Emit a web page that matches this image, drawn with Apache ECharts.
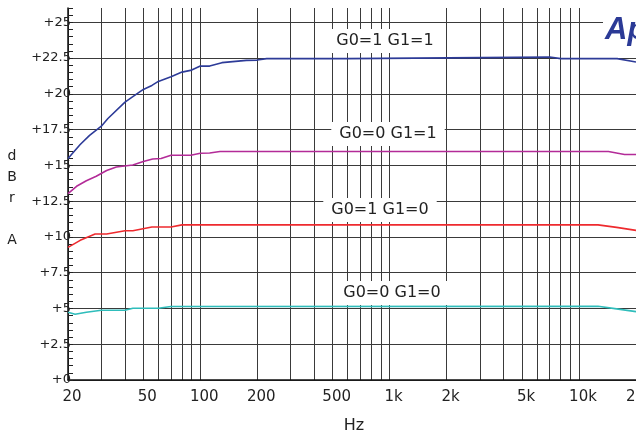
<!DOCTYPE html>
<html>
<head>
<meta charset="utf-8">
<script src="https://cdn.jsdelivr.net/npm/echarts@6/dist/echarts.min.js"></script>
<style>
  html, body { margin: 0; padding: 0; background: #fff; }
  #chart { width: 636px; height: 434px; }
</style>
</head>
<body>
<div id="chart"></div>
<script>
// ---- data ----
var freqBlue = [20, 23.2, 26, 30, 32.5, 40, 44, 50, 55.5, 60, 70, 80, 90, 100, 112, 130, 175, 200, 224, 600, 610, 7000, 8000, 15900, 20000];
var dbBlue   = [15.48, 16.46, 17.1, 17.74, 18.28, 19.42, 19.8, 20.31, 20.59, 20.87, 21.2, 21.52, 21.66, 21.94, 21.94, 22.18, 22.34, 22.36, 22.46, 22.46, 22.57, 22.57, 22.46, 22.46, 22.22];

var freqMagenta = [20, 22.2, 25, 28.2, 32, 36, 44, 50, 56, 62, 70, 89, 100, 112, 127, 14300, 17400, 20000];
var dbMagenta   = [13.03, 13.54, 13.93, 14.24, 14.64, 14.89, 15.03, 15.27, 15.45, 15.48, 15.71, 15.71, 15.85, 15.87, 15.97, 15.97, 15.76, 15.76];

var freqRed = [20, 23.2, 27.8, 32, 40, 44, 55.5, 70, 80, 12600, 15800, 20000];
var dbRed   = [9.27, 9.76, 10.2, 10.2, 10.43, 10.43, 10.69, 10.69, 10.84, 10.84, 10.67, 10.46];

var freqCyan = [20, 21.8, 25, 30, 40, 44, 60, 70, 12600, 15800, 20000];
var dbCyan   = [4.74, 4.6, 4.74, 4.88, 4.88, 5.02, 5.02, 5.14, 5.15, 4.97, 4.78];

var seriesNames = ['G0=1 G1=1', 'G0=0 G1=1', 'G0=1 G1=0', 'G0=0 G1=0'];

var xGridFreqs = [20, 30, 40, 50, 60, 70, 80, 90, 100, 200, 300, 400, 500, 600, 700, 800, 900,
                  1000, 2000, 3000, 4000, 5000, 6000, 7000, 8000, 9000, 10000, 20000];
var xLabelFreqs = [20, 50, 100, 200, 500, 1000, 2000, 5000, 10000, 20000];
var xTickLabels = ['20', '50', '100', '200', '500', '1k', '2k', '5k', '10k', '20k'];
var yTickLabels = ['+0', '+2.5', '+5', '+7.5', '+10', '+12.5', '+15', '+17.5', '+20', '+22.5', '+25'];

var xMinHz = 20, xMaxHz = 20000;
var yMin = 0, yMax = 26, yStep = 2.5;

// ---- helpers ----
function lg(f) { return Math.log10(f); }
function pairs(fs, vs) { return fs.map(function (f, i) { return [lg(f), vs[i]]; }); }

var chart = echarts.init(document.getElementById('chart'), null, { renderer: 'canvas' });
var gridColor = '#3a3a3a';
var font = 'DejaVu Sans';

function lineSeries(name, fs, vs, color) {
  return {
    name: name, type: 'line', data: pairs(fs, vs), showSymbol: false, smooth: false,
    lineStyle: { color: color, width: 1.6 }, itemStyle: { color: color },
    animation: false, z: 3
  };
}

function boxLabel(text, cx, cy) {
  return {
    type: 'text', x: cx, y: cy, z: 10,
    style: {
      text: text, fill: '#222', font: '16px "' + font + '"',
      align: 'center', verticalAlign: 'middle',
      backgroundColor: '#fff', padding: [4, 8]
    }
  };
}

var option = {
  backgroundColor: '#fff',
  animation: false,
  grid: { left: 68, right: 0, top: 8, bottom: 54, containLabel: false, outerBoundsMode: 'none' },
  xAxis: {
    type: 'value',
    min: lg(xMinHz), max: lg(xMaxHz),
    axisLine: { show: true, onZero: false, lineStyle: { color: '#111', width: 1.5 } },
    axisTick: { show: false, customValues: xGridFreqs.map(lg) },
    splitLine: { show: true, lineStyle: { color: gridColor, width: 1 } },
    axisLabel: {
      customValues: xLabelFreqs.map(lg),
      color: '#222', fontFamily: font, fontSize: 15, margin: 10,
      padding: [0, 0, 0, 8],
      formatter: function (v) {
        for (var i = 0; i < xLabelFreqs.length; i++) {
          if (Math.abs(lg(xLabelFreqs[i]) - v) < 1e-6) return xTickLabels[i];
        }
        return '';
      }
    }
  },
  yAxis: {
    type: 'value',
    min: yMin, max: yMax, interval: yStep,
    axisLine: { show: true, lineStyle: { color: '#111', width: 1.5 } },
    axisTick: { show: true, inside: true, length: 5, lineStyle: { color: '#222' } },
    minorTick: { show: true, splitNumber: 5, length: 5, lineStyle: { color: '#222' } },
    splitLine: { show: true, showMaxLine: false, lineStyle: { color: gridColor, width: 1 } },
    axisLabel: {
      color: '#222', fontFamily: font, fontSize: 13, margin: -3,
      showMaxLabel: false,
      formatter: function (v) {
        var i = Math.round(v / yStep);
        if (Math.abs(i * yStep - v) > 1e-6) return '';
        return yTickLabels[i] || '';
      }
    }
  },
  series: [
    lineSeries(seriesNames[0], freqBlue, dbBlue, '#2d3b98'),
    lineSeries(seriesNames[1], freqMagenta, dbMagenta, '#b32b98'),
    lineSeries(seriesNames[2], freqRed, dbRed, '#ee2a2e'),
    lineSeries(seriesNames[3], freqCyan, dbCyan, '#2fbdbb')
  ],
  graphic: [
    boxLabel(seriesNames[0], 385, 41),
    boxLabel(seriesNames[1], 388, 134),
    boxLabel(seriesNames[2], 380, 210),
    boxLabel(seriesNames[3], 392, 293),
    {
      type: 'text', x: 12, y: 198, z: 10,
      style: {
        text: 'd\nB\nr\n\nA', fill: '#222', font: '14px "' + font + '"',
        align: 'center', verticalAlign: 'middle', lineHeight: 21
      }
    },
    {
      type: 'text', x: 354, y: 426, z: 10,
      style: { text: 'Hz', fill: '#222', font: '16px "' + font + '"', align: 'center', verticalAlign: 'middle' }
    },
    {
      type: 'text', x: 603, y: 30, z: 10,
      style: {
        text: 'Ap', fill: '#2b3a96', font: 'italic bold 31px "Liberation Sans Narrow", "Liberation Sans", sans-serif',
        align: 'left', verticalAlign: 'middle', backgroundColor: '#fff', padding: [0, 2]
      }
    }
  ]
};
chart.setOption(option);
</script>
</body>
</html>
